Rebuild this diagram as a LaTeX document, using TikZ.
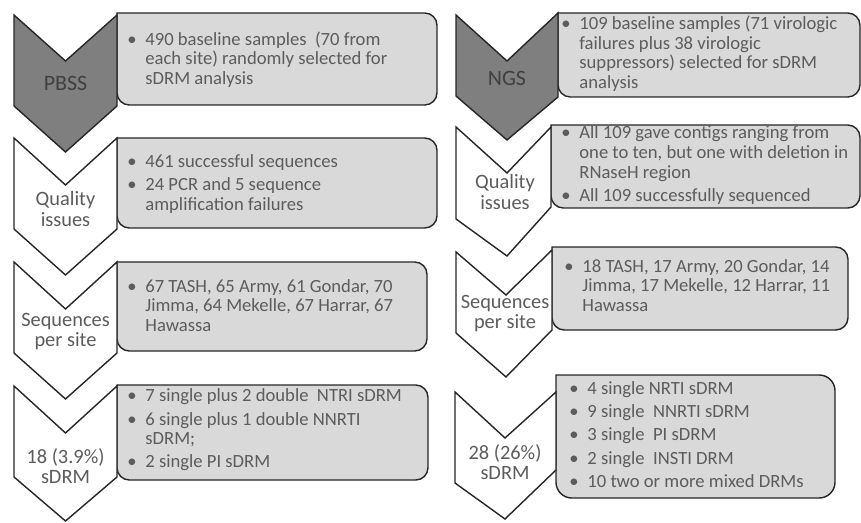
\documentclass[tikz,border=0pt]{standalone}
\usepackage{fontspec}
\setmainfont{Carlito}
\definecolor{chevgray}{RGB}{127,127,127}
\definecolor{boxgray}{RGB}{217,217,217}
\definecolor{labelgray}{RGB}{92,92,92}
\definecolor{darklabel}{RGB}{64,64,64}

\begin{document}
\begin{tikzpicture}[x=0.02cm,y=-0.02cm]
	\tikzset{outline/.style={draw=black!85, line width=0.8pt, line join=miter},
		darkchev/.style={outline, fill=chevgray},
		lightchev/.style={outline, fill=white},
		infobox/.style={outline, fill=boxgray},
		chevlabel/.style={text=labelgray, align=center, inner sep=0, font=\fontsize{11.6}{11.4}\selectfont},
		toplabel/.style={text=darklabel, inner sep=0, font=\fontsize{12.5}{15}\selectfont},
		bullets/.style={anchor=west, text=labelgray, inner sep=0, font=\fontsize{10.6}{11.2}\selectfont}};
	\useasboundingbox (0,0) rectangle (861,523);

	\draw[infobox] (117,13) [rounded corners=7pt] -- (437,13) -- (437,105) -- (117,105) [sharp corners] -- cycle;
	\draw[infobox] (117,138) [rounded corners=7pt] -- (437,138) -- (437,228) -- (117,228) [sharp corners] -- cycle;
	\draw[infobox] (117,262) [rounded corners=7pt] -- (427,262) -- (427,351) -- (117,351) [sharp corners] -- cycle;
	\draw[infobox] (117,385) [rounded corners=7pt] -- (428,385) -- (428,480) -- (117,480) [sharp corners] -- cycle;
	\draw[infobox] (558,13) [rounded corners=7pt] -- (860,13) -- (860,97) -- (558,97) [sharp corners] -- cycle;
	\draw[infobox] (551,125) [rounded corners=7pt] -- (860,125) -- (860,208) -- (551,208) [sharp corners] -- cycle;
	\draw[infobox] (552,247) [rounded corners=7pt] -- (848,247) -- (848,330) -- (552,330) [sharp corners] -- cycle;
	\draw[infobox] (556,375) [rounded corners=9pt] -- (835,375) -- (835,498) -- (556,498) [sharp corners] -- cycle;

	\filldraw[darkchev] (14,15) -- (65.5,61) -- (117,15) -- (117,106) -- (65.5,152) -- (14,106) -- cycle;
	\filldraw[lightchev] (14,138) -- (65.5,185) -- (117,138) -- (117,229) -- (65.5,275) -- (14,229) -- cycle;
	\filldraw[lightchev] (14,262) -- (65.5,309) -- (117,262) -- (117,353) -- (65.5,399) -- (14,353) -- cycle;
	\filldraw[lightchev] (14,386) -- (65.5,433) -- (117,386) -- (117,477) -- (65.5,521) -- (14,477) -- cycle;
	\filldraw[darkchev] (456,15) -- (507,61) -- (558,13) -- (558,97) -- (507,140) -- (456,96) -- cycle;
	\filldraw[lightchev] (456,127) -- (507,173) -- (551,127) -- (551,207) -- (507,256) -- (456,219) -- cycle;
	\filldraw[lightchev] (456,252) -- (506,295) -- (552,250) -- (552,330) -- (506,377) -- (456,333) -- cycle;
	\filldraw[lightchev] (455,392) -- (505,438) -- (556,392) -- (556,470) -- (505,519) -- (455,483) -- cycle;

	\node[toplabel] (pbss) at (65.5,83) {PBSS};
	\node[chevlabel] (qualL) at (65.5,209) {Quality\\issues};
	\node[chevlabel] (siteL) at (65.5,332) {Sequences\\per site};
	\node[chevlabel] (drmL) at (65.5,466) {18 (3.9\%)\\sDRM};
	\node[toplabel] (ngs) at (507,78) {NGS};
	\node[chevlabel] (qualR) at (505,192) {Quality\\issues};
	\node[chevlabel] (siteR) at (505,314) {Sequences\\per site};
	\node[chevlabel] (drmR) at (505,462) {28 (26\%)\\sDRM};

	\node[bullets] (pbssinfo) at (127,61) {\begin{tabular}{@{}l@{\hspace{5pt}}l@{}}
		\textbullet & 490 baseline samples~ (70 from\\
		& each site) randomly selected for\\
		& sDRM analysis\end{tabular}};
	\node[bullets] (qualLinfo) at (127,185) {\begin{tabular}{@{}l@{\hspace{5pt}}l@{}}
		\textbullet & 461 successful sequences\\[2pt]
		\textbullet & 24 PCR and 5 sequence\\
		& amplification failures\end{tabular}};
	\node[bullets] (siteLinfo) at (127,308) {\begin{tabular}{@{}l@{\hspace{5pt}}l@{}}
		\textbullet & 67 TASH, 65 Army, 61 Gondar, 70\\
		& Jimma, 64 Mekelle, 67 Harrar, 67\\
		& Hawassa\end{tabular}};
	\node[bullets] (drmLinfo) at (127,431) {\begin{tabular}{@{}l@{\hspace{5pt}}l@{}}
		\textbullet & 7 single plus 2 double~ NTRI sDRM\\[2pt]
		\textbullet & 6 single plus 1 double NNRTI\\
		& sDRM;\\[2pt]
		\textbullet & 2 single PI sDRM\end{tabular}};
	\node[bullets] (ngsinfo) at (561,55) {\begin{tabular}{@{}l@{\hspace{5pt}}l@{}}
		\textbullet & 109 baseline samples (71 virologic\\
		& failures plus 38 virologic\\
		& suppressors) selected for sDRM\\
		& analysis\end{tabular}};
	\node[bullets] (qualRinfo) at (561,166) {\begin{tabular}{@{}l@{\hspace{5pt}}l@{}}
		\textbullet & All 109 gave contigs ranging from\\
		& one to ten, but one with deletion in\\
		& RNaseH region\\[2pt]
		\textbullet & All 109 successfully sequenced\end{tabular}};
	\node[bullets] (siteRinfo) at (564,288) {\begin{tabular}{@{}l@{\hspace{5pt}}l@{}}
		\textbullet & 18 TASH, 17 Army, 20 Gondar, 14\\
		& Jimma, 17 Mekelle, 12 Harrar, 11\\
		& Hawassa\end{tabular}};
	\node[bullets] (drmRinfo) at (569,437) {\begin{tabular}{@{}l@{\hspace{5pt}}l@{}}
		\textbullet & 4 single NRTI sDRM\\[2pt]
		\textbullet & 9 single~ NNRTI sDRM\\[2pt]
		\textbullet & 3 single~ PI sDRM\\[2pt]
		\textbullet & 2 single~ INSTI DRM\\[2pt]
		\textbullet & 10 two or more mixed DRMs\end{tabular}};
\end{tikzpicture}
\end{document}
